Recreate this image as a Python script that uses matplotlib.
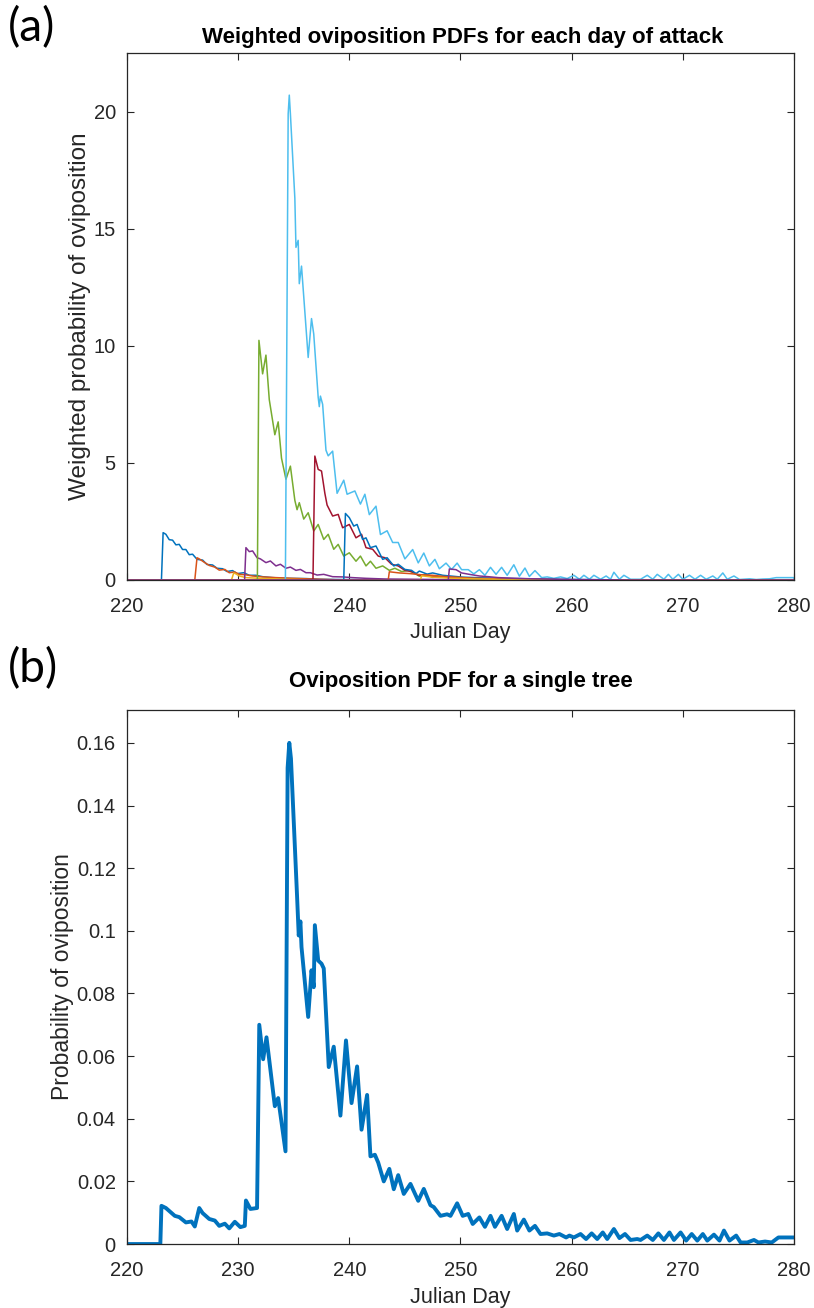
import numpy as np
import matplotlib
matplotlib.use("Agg")
from matplotlib import pyplot as plt
from matplotlib.ticker import FormatStrFormatter

plt.rcParams['font.family'] = ['Liberation Sans', 'DejaVu Sans']

# matlab default line colours
c_blue = '#0072BD'
c_orange = '#D95319'
c_yellow = '#EDB120'
c_purple = '#7E2F8E'
c_green = '#77AC30'
c_lblue = '#4DBEEE'
c_red = '#A2142F'

# (a) weighted oviposition pdf for each day of attack
a1_day = [223.1, 223.25, 223.5, 223.8, 224.1, 224.4, 224.7, 225.0, 225.3, 225.6, 225.9, 226.3, 226.8, 227.2,
          227.7, 228.1, 228.6, 229.0, 229.5, 229.9, 230.5, 231.0, 231.6, 232.2, 233.1, 234.3, 236.1, 237.3,
          238.8, 241.0, 245.0, 250.0]
a1_val = [0, 2.02, 1.95, 1.72, 1.70, 1.50, 1.52, 1.30, 1.30, 1.08, 1.10, 0.88, 0.85, 0.66,
          0.64, 0.50, 0.48, 0.36, 0.40, 0.27, 0.31, 0.20, 0.20, 0.14, 0.10, 0.07, 0.06, 0.03,
          0.02, 0.015, 0.01, 0]

a2_day = [226.1, 226.3, 226.5, 227.0, 227.4, 227.9, 228.3, 228.8, 229.2, 229.7, 230.1, 230.7, 231.3, 232.2,
          233.4, 234.9, 236.7, 238.8, 242.0]
a2_val = [0, 0.95, 0.90, 0.74, 0.62, 0.55, 0.42, 0.45, 0.31, 0.34, 0.24, 0.22, 0.17, 0.13,
          0.10, 0.07, 0.04, 0.01, 0]

a3_day = [229.4, 229.6, 229.8, 230.1, 230.7, 232.0, 233.8, 236.1, 239.0]
a3_val = [0, 0.30, 0.26, 0.17, 0.10, 0.07, 0.04, 0.01, 0]

a4_day = [230.58, 230.7, 231.0, 231.3, 231.7, 232.0, 232.5, 232.9, 233.4, 233.8, 234.3, 234.7, 235.2, 235.6,
          236.1, 236.5, 237.1, 237.7, 238.5, 239.4, 240.3, 241.5, 243.3, 245.7, 250.0]
a4_val = [0, 1.38, 1.21, 1.24, 0.95, 0.90, 0.74, 0.81, 0.60, 0.67, 0.50, 0.55, 0.41, 0.45,
          0.31, 0.31, 0.21, 0.24, 0.14, 0.13, 0.10, 0.07, 0.04, 0.03, 0.01]

a5_day = [231.73, 231.87, 232.2, 232.5, 232.8, 233.3, 233.6, 233.9, 234.3, 234.7, 235.1, 235.3, 235.5, 235.9,
          236.3, 236.8, 237.2, 237.7, 238.1, 238.6, 239.0, 239.5, 240.0, 240.6, 241.0, 241.5, 241.9, 242.4,
          243.0, 243.6, 244.1, 244.7, 245.3, 245.9, 246.3, 246.9, 247.5, 248.4, 249.3, 250.5, 252.0, 255.0,
          260.0]
a5_val = [0, 10.23, 8.8, 9.6, 7.7, 6.2, 6.75, 5.2, 4.3, 4.86, 3.4, 3.0, 3.3, 2.6,
          2.87, 2.09, 2.37, 1.73, 1.95, 1.31, 1.52, 1.02, 1.16, 0.80, 1.02, 0.60, 0.80, 0.50,
          0.60, 0.41, 0.50, 0.36, 0.40, 0.28, 0.16, 0.23, 0.11, 0.16, 0.09, 0.06, 0.05, 0.02,
          0]

a6_day = [234.25, 234.5, 234.6, 234.7, 235.1, 235.2, 235.4, 235.5, 235.7, 236.3, 236.6, 236.8, 237.2, 237.3,
          237.4, 237.6, 237.9, 238.1, 238.5, 238.9, 239.5, 239.8, 240.5, 241.0, 241.4, 241.8, 242.4, 242.8,
          243.4, 243.9, 244.4, 245.0, 245.7, 246.2, 246.7, 247.2, 247.7, 248.1, 248.7, 249.2, 249.7, 250.1,
          250.7, 251.2, 251.7, 252.2, 252.7, 253.2, 253.7, 254.2, 254.8, 255.3, 255.8, 256.2, 256.7, 257.3,
          257.8, 258.4, 259.0, 259.6, 260.2, 260.7, 261.1, 261.6, 262.0, 262.6, 263.1, 263.5, 263.8, 264.3,
          264.7, 265.3, 266.2, 266.8, 267.3, 267.7, 268.3, 268.7, 269.1, 269.6, 270.0, 270.6, 271.1, 271.6,
          272.1, 272.7, 273.1, 273.6, 274.0, 274.6, 275.1, 276.0, 276.6, 277.2, 277.8, 278.4, 280.0]
a6_val = [0, 19.9, 20.7, 19.9, 16.3, 14.2, 14.5, 12.65, 13.4, 9.5, 11.16, 10.5, 7.8, 7.4,
          7.85, 7.5, 5.54, 5.3, 5.5, 3.7, 4.26, 3.66, 3.8, 3.24, 3.66, 2.79, 3.15, 1.94,
          2.1, 1.6, 1.6, 0.9, 1.3, 0.73, 1.15, 0.6, 0.88, 0.48, 0.72, 0.45, 0.72, 0.44,
          0.44, 0.26, 0.44, 0.20, 0.54, 0.24, 0.54, 0.20, 0.65, 0.16, 0.51, 0.15, 0.40, 0.10,
          0.13, 0.07, 0.13, 0.06, 0.20, 0.03, 0.20, 0.03, 0.20, 0.03, 0.17, 0.03, 0.33, 0.03,
          0.20, 0.03, 0.03, 0.20, 0.03, 0.24, 0.03, 0.24, 0.03, 0.24, 0.03, 0.20, 0.03, 0.20,
          0.03, 0.17, 0.03, 0.30, 0.03, 0.17, 0.02, 0.05, 0.02, 0.04, 0.05, 0.10, 0.10]

a7_day = [236.73, 236.9, 237.2, 237.5, 237.8, 238.0, 238.5, 239.0, 239.4, 240.0, 240.6, 241.1, 241.5, 242.1,
          242.6, 243.2, 243.8, 244.4, 245.0, 245.6, 246.2, 247.0, 248.0, 250.0, 252.0, 255.0, 258.0]
a7_val = [0, 5.29, 4.72, 4.65, 3.7, 3.2, 2.73, 2.8, 2.23, 2.37, 1.8, 1.95, 1.38, 1.31,
          1.02, 0.95, 0.67, 0.60, 0.41, 0.36, 0.21, 0.20, 0.12, 0.10, 0.06, 0.04, 0]

a8_day = [239.5, 239.65, 240.0, 240.4, 240.7, 241.2, 241.5, 241.9, 242.4, 243.0, 243.4, 244.0, 244.4, 245.0,
          245.6, 246.0, 246.3, 247.0, 247.5, 248.4, 249.3, 250.2, 252.0, 254.0, 256.0, 260.0, 265.0]
a8_val = [0, 2.84, 2.66, 2.3, 2.37, 1.73, 1.8, 1.38, 1.45, 0.88, 0.95, 0.60, 0.67, 0.45,
          0.41, 0.27, 0.38, 0.25, 0.30, 0.20, 0.16, 0.12, 0.09, 0.07, 0.05, 0.02, 0]

a9_day = [243.5, 243.6, 244.5, 245.5, 246.5, 247.5, 248.5, 249.5, 251.0, 253.0, 256.0, 260.0]
a9_val = [0, 0.35, 0.30, 0.27, 0.22, 0.20, 0.15, 0.12, 0.08, 0.05, 0.03, 0]

a10_day = [246.4, 246.5, 247.5, 249.0, 251.0, 254.0, 258.0]
a10_val = [0, 0.18, 0.12, 0.08, 0.05, 0.02, 0]

a11_day = [248.9, 249.0, 249.6, 250.1, 250.8, 251.7, 252.5, 253.4, 254.9, 256.4, 260.0, 265.0]
a11_val = [0, 0.47, 0.44, 0.30, 0.24, 0.17, 0.14, 0.10, 0.07, 0.05, 0.02, 0]

curves_a = [(a1_day, a1_val, c_blue), (a2_day, a2_val, c_orange), (a3_day, a3_val, c_yellow),
            (a4_day, a4_val, c_purple), (a5_day, a5_val, c_green), (a6_day, a6_val, c_lblue),
            (a7_day, a7_val, c_red), (a8_day, a8_val, c_blue), (a9_day, a9_val, c_orange),
            (a10_day, a10_val, c_yellow), (a11_day, a11_val, c_purple)]

# (b) oviposition pdf for a single tree
b_day = [220.0, 223.0, 223.1, 223.5, 224.3, 224.7, 225.3, 225.8, 226.1, 226.5, 226.8, 227.4, 227.9, 228.3,
         228.8, 229.2, 229.7, 230.2, 230.6, 230.7, 231.1, 231.7, 231.9, 232.25, 232.55, 233.3, 233.6, 234.26,
         234.45, 234.6, 234.75, 235.3, 235.45, 235.6, 235.7, 236.3, 236.6, 236.8, 236.9, 237.2, 237.5, 237.7,
         238.15, 238.6, 239.2, 239.7, 240.2, 240.7, 241.1, 241.6, 241.9, 242.3, 242.6, 243.1, 243.6, 244.0,
         244.4, 244.9, 245.5, 246.2, 246.7, 247.3, 247.6, 248.2, 248.8, 249.1, 249.7, 250.2, 250.7, 251.1,
         251.7, 252.2, 252.7, 253.1, 253.7, 254.2, 254.8, 255.1, 255.7, 256.2, 256.7, 257.2, 257.8, 258.4,
         258.9, 259.5, 259.8, 260.2, 260.8, 261.3, 261.8, 262.3, 262.8, 263.2, 263.8, 264.3, 264.8, 265.3,
         265.9, 266.2, 266.8, 267.3, 267.8, 268.3, 268.8, 269.2, 269.8, 270.3, 270.8, 271.3, 271.8, 272.2,
         272.8, 273.3, 273.7, 274.2, 274.8, 275.2, 275.8, 276.4, 276.8, 277.4, 278.0, 278.6, 280.0]
b_val = [0, 0, 0.0122, 0.0115, 0.0090, 0.0086, 0.0069, 0.0072, 0.0056, 0.0115, 0.0099, 0.0080, 0.0075, 0.0058,
         0.0065, 0.0050, 0.0071, 0.0054, 0.0058, 0.0139, 0.0112, 0.0115, 0.0700, 0.0590, 0.0660, 0.0440, 0.0466, 0.0296,
         0.1520, 0.1600, 0.1550, 0.1110, 0.0985, 0.1030, 0.0948, 0.0725, 0.0874, 0.0820, 0.1018, 0.0905, 0.0895, 0.0880,
         0.0565, 0.0630, 0.0410, 0.0650, 0.0450, 0.0567, 0.0365, 0.0476, 0.0280, 0.0285, 0.0260, 0.0200, 0.0240, 0.0175,
         0.0220, 0.0160, 0.0192, 0.0138, 0.0176, 0.0124, 0.0118, 0.0090, 0.0095, 0.0090, 0.0130, 0.0090, 0.0096, 0.0064,
         0.0085, 0.0055, 0.0090, 0.0055, 0.0090, 0.0048, 0.0096, 0.0043, 0.0078, 0.0043, 0.0058, 0.0032, 0.0034, 0.0027,
         0.0032, 0.0021, 0.0027, 0.0021, 0.0032, 0.0016, 0.0034, 0.0016, 0.0037, 0.0016, 0.0048, 0.0019, 0.0032, 0.0013,
         0.0016, 0.0013, 0.0027, 0.0013, 0.0034, 0.0013, 0.0037, 0.0013, 0.0037, 0.0011, 0.0032, 0.0011, 0.0032, 0.0011,
         0.0030, 0.0011, 0.0043, 0.0011, 0.0027, 0.0005, 0.0005, 0.0013, 0.0005, 0.0008, 0.0005, 0.0021, 0.0021]

x_ticks = [220, 230, 240, 250, 260, 270, 280]
ya_ticks = [0, 5, 10, 15, 20]
yb_ticks = [0, 0.02, 0.04, 0.06, 0.08, 0.1, 0.12, 0.14, 0.16]

dark = '#262626'


def style(ax):
    for s in ax.spines.values():
        s.set_color(dark)
        s.set_linewidth(0.9)
    ax.tick_params(direction='in', length=5, width=0.8, colors=dark, labelsize=14.5,
                   top=True, right=True)
    ax.tick_params(axis='x', pad=12)
    ax.tick_params(axis='y', pad=8)
    ax.set_xlim(220, 280)
    ax.set_xticks(x_ticks)
    ax.set_xlabel('Julian Day', fontsize=15.5, color=dark)
    ax.xaxis.set_label_coords(0.5, -0.08)


fig = plt.figure(figsize=(8.14, 13.08), dpi=100)

ax1 = fig.add_axes([0.156, 0.5566, 0.8194, 0.4029])
for d, v, c in curves_a:
    x = [220.0, d[0]] + d + [280.0]
    y = [0.0, 0.0] + v + [0.0]
    ax1.plot(x, y, color=c, lw=1.1)
style(ax1)
ax1.set_ylim(0, 22.5)
ax1.set_yticks(ya_ticks)
ax1.set_ylabel('Weighted probability of oviposition', fontsize=17.5, color=dark)
ax1.yaxis.set_label_coords(-0.054, 0.5)
fig.text(0.569, 0.971, 'Weighted oviposition PDFs for each day of attack', ha='center', va='center',
         fontsize=16, fontweight='bold', color='black')
fig.text(0.01, 0.979, '(a)', ha='left', va='center', fontsize=33, family='Lato')

ax2 = fig.add_axes([0.156, 0.0489, 0.8194, 0.4083])
ax2.plot(b_day, b_val, color=c_blue, lw=2.8)
style(ax2)
ax2.set_ylim(0, 0.1705)
ax2.set_yticks(yb_ticks)
ax2.yaxis.set_major_formatter(FormatStrFormatter('%g'))
ax2.set_ylabel('Probability of oviposition', fontsize=16.5, color=dark)
ax2.yaxis.set_label_coords(-0.08, 0.5)
fig.text(0.566, 0.4786, 'Oviposition PDF for a single tree', ha='center', va='center',
         fontsize=16, fontweight='bold', color='black')
fig.text(0.01, 0.489, '(b)', ha='left', va='center', fontsize=33, family='Lato')

fig.savefig('out.png', dpi=100)
